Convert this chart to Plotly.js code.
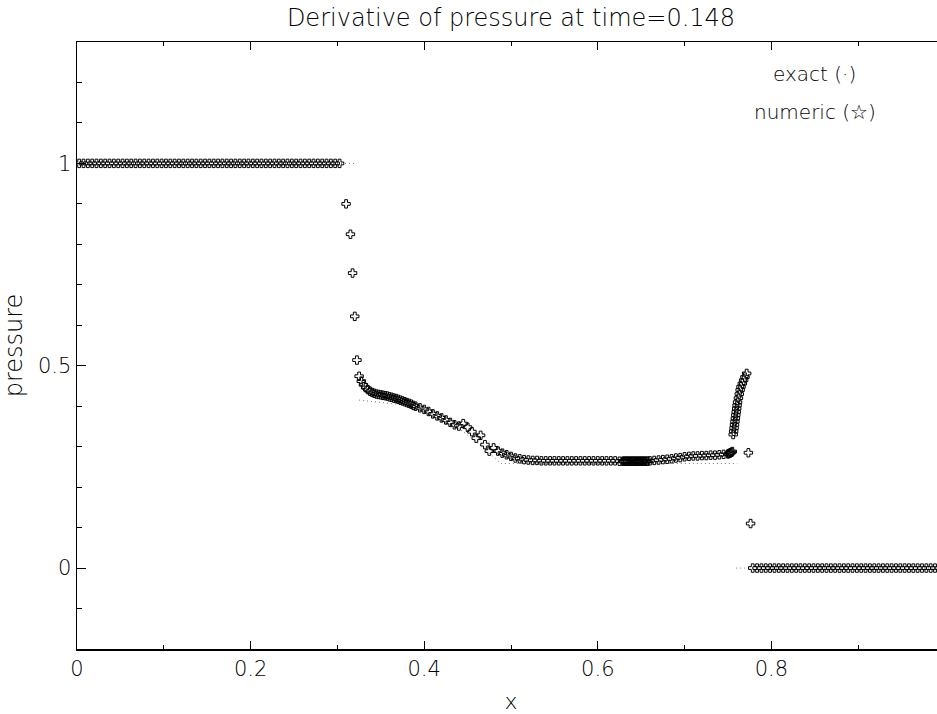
<!DOCTYPE html>
<html>
<head>
<meta charset="utf-8">
<script src="https://cdn.plot.ly/plotly-3.0.1.min.js"></script>
<style>
html,body{margin:0;padding:0;overflow:hidden;background:#fff;width:937px;height:714px;}
#chart{width:946px;height:714px;}
</style>
</head>
<body>
<div id="chart"></div>
<script>
// Numeric solution (cross markers)
const numX = [
 0.0025,0.0075,0.0125,0.0175,0.0225,0.0275,0.0325,0.0375,0.0425,0.0475,
 0.0525,0.0575,0.0625,0.0675,0.0725,0.0775,0.0825,0.0875,0.0925,0.0975,
 0.1025,0.1075,0.1125,0.1175,0.1225,0.1275,0.1325,0.1375,0.1425,0.1475,
 0.1525,0.1575,0.1625,0.1675,0.1725,0.1775,0.1825,0.1875,0.1925,0.1975,
 0.2025,0.2075,0.2125,0.2175,0.2225,0.2275,0.2325,0.2375,0.2425,0.2475,
 0.2525,0.2575,0.2625,0.2675,0.2725,0.2775,0.2825,0.2875,0.2925,0.2975,0.3025,
 0.3100,0.3150,0.3175,0.3200,0.3225,0.3250,
 0.3275,0.3300,0.3325,0.3350,0.3375,0.3400,0.3425,0.3450,0.3475,0.3500,
 0.3525,0.3550,0.3575,0.3600,0.3625,0.3650,0.3675,0.3700,0.3725,0.3750,
 0.3775,0.3800,0.3825,0.3850,0.3875,0.3900,0.3950,0.4000,
 0.405,0.410,0.415,0.420,0.425,0.430,0.435,0.440,0.445,0.450,
 0.455,0.460,0.465,0.470,0.475,0.480,0.485,0.490,0.495,0.500,
 0.505,0.510,0.515,0.520,0.525,0.530,0.535,0.540,0.545,0.550,
 0.555,0.560,0.565,0.570,0.575,0.580,0.585,0.590,0.595,0.600,
 0.605,0.610,0.615,0.620,0.625,
 0.62875,0.63,0.63125,0.6325,0.63375,0.635,0.63625,0.6375,0.63875,0.64,
 0.64125,0.6425,0.64375,0.645,0.64625,0.6475,0.64875,0.65,0.65125,0.6525,
 0.65375,0.655,0.65625,0.6575,
 0.660,0.665,0.670,0.675,0.680,0.685,0.690,0.695,0.700,0.705,
 0.710,0.715,0.720,0.725,0.730,0.735,0.740,0.745,0.750,
 0.751,0.752,0.753,0.754,0.755,
 0.7560,0.7565,0.7570,0.7575,0.7580,0.7585,0.7590,0.7595,0.7600,0.7605,
 0.7610,0.7620,0.7630,0.7640,0.7650,0.7665,0.7680,0.7695,0.7715,
 0.7735,0.7760,
 0.7785,0.7835,0.7885,0.7935,0.7985,0.8035,0.8085,0.8135,0.8185,0.8235,
 0.8285,0.8335,0.8385,0.8435,0.8485,0.8535,0.8585,0.8635,0.8685,0.8735,
 0.8785,0.8835,0.8885,0.8935,0.8985,0.9035,0.9085,0.9135,0.9185,0.9235,
 0.9285,0.9335,0.9385,0.9435,0.9485,0.9535,0.9585,0.9635,0.9685,0.9735,
 0.9785,0.9835,0.9885,0.9935,0.9985
];
const numY = [
 1,1,1,1,1,1,1,1,1,1,
 1,1,1,1,1,1,1,1,1,1,
 1,1,1,1,1,1,1,1,1,1,
 1,1,1,1,1,1,1,1,1,1,
 1,1,1,1,1,1,1,1,1,1,
 1,1,1,1,1,1,1,1,1,1,1,
 0.900,0.825,0.729,0.622,0.514,0.474,
 0.462,0.453,0.446,0.441,0.437,0.434,0.432,0.430,0.429,0.428,
 0.427,0.426,0.425,0.423,0.422,0.420,0.419,0.417,0.415,0.413,
 0.411,0.409,0.407,0.405,0.402,0.400,0.396,0.392,
 0.387,0.381,0.376,0.371,0.366,0.360,0.354,0.351,0.357,0.348,
 0.337,0.321,0.328,0.305,0.289,0.297,0.289,0.284,0.280,0.276,
 0.272,0.270,0.268,0.267,0.266,0.266,0.265,0.265,0.265,0.265,
 0.265,0.265,0.265,0.265,0.265,0.265,0.265,0.265,0.265,0.265,
 0.265,0.265,0.265,0.265,0.264,
 0.264,0.264,0.264,0.264,0.264,0.264,0.264,0.264,0.264,0.264,
 0.264,0.264,0.264,0.264,0.264,0.264,0.264,0.264,0.264,0.264,
 0.264,0.264,0.264,0.264,
 0.265,0.266,0.267,0.268,0.269,0.270,0.272,0.273,0.275,0.276,
 0.277,0.277,0.278,0.278,0.279,0.279,0.280,0.281,0.282,
 0.283,0.284,0.285,0.286,0.288,
 0.330,0.338,0.346,0.354,0.362,0.370,0.378,0.386,0.394,0.402,
 0.410,0.420,0.430,0.440,0.448,0.456,0.464,0.472,0.481,
 0.285,0.110,
 0,0,0,0,0,0,0,0,0,0,
 0,0,0,0,0,0,0,0,0,0,
 0,0,0,0,0,0,0,0,0,0,
 0,0,0,0,0,0,0,0,0,0,
 0,0,0,0,0
];
// Exact solution (dotted)
const exactX = [0, 0.3226, null, 0.3250, 0.3400, 0.3600, 0.3800, 0.4000, 0.4200, 0.4400, 0.4600, 0.4800, 0.4885, 0.7605, null, 0.7595, 1.0];
const exactY = [1, 1, null, 0.415, 0.412, 0.407, 0.402, 0.390, 0.372, 0.345, 0.312, 0.275, 0.2585, 0.2585, null, 0, 0];

const titleText = 'Derivative of pressure at time=0.148';
const xTitle = 'x';
const yTitle = 'pressure';
const legendLabels = ['exact (\u00B7)', 'numeric (\u2606)'];

const FONT = 'DejaVu Sans, sans-serif';
const traces = [
  {x: exactX, y: exactY, mode: 'lines', connectgaps: false,
   line: {color: '#777', width: 1, dash: '1px,3px'}, hoverinfo: 'skip'},
  {x: numX, y: numY, mode: 'markers',
   marker: {symbol: 'cross-open', size: 7, color: '#000', line: {color: '#000', width: 1}}}
];
const layout = {
  width: 946, height: 714,
  margin: {l: 77, r: 1, t: 42, b: 65},
  paper_bgcolor: '#fff', plot_bgcolor: '#fff',
  showlegend: false,
  font: {family: FONT, color: '#000', size: 20, weight: 300},
  title: {text: titleText, xref: 'paper', x: 0.5, xanchor: 'center', y: 0.975, yanchor: 'middle',
          font: {family: FONT, size: 24, color: '#000', weight: 300}},
  xaxis: {range: [0, 1], showgrid: false, zeroline: false,
          showline: true, linecolor: '#000', linewidth: 1.5, mirror: 'ticks',
          ticks: 'inside', ticklen: 8, tickwidth: 1, tickcolor: '#000',
          dtick: 0.2, tick0: 0,
          minor: {ticks: 'inside', dtick: 0.1, ticklen: 4, tickcolor: '#000', tickwidth: 1, showgrid: false},
          tickfont: {family: FONT, size: 21, color: '#000', weight: 300},
          title: {text: xTitle, standoff: 20, font: {family: FONT, size: 22, color: '#000', weight: 300}}},
  yaxis: {range: [-0.2, 1.3], showgrid: false, zeroline: false,
          showline: true, linecolor: '#000', linewidth: 1.5, mirror: false,
          ticks: 'inside', ticklen: 9, tickwidth: 1, tickcolor: '#000',
          dtick: 0.5, tick0: 0,
          minor: {ticks: 'inside', dtick: 0.1, ticklen: 5, tickcolor: '#000', tickwidth: 1, showgrid: false},
          tickfont: {family: FONT, size: 21, color: '#000', weight: 300},
          title: {text: yTitle, standoff: 8, font: {family: FONT, size: 24, color: '#000', weight: 300}}},
  annotations: [
    {text: legendLabels[0], xref: 'paper', yref: 'paper', x: 0.85, y: 0.948, xanchor: 'center', yanchor: 'middle',
     showarrow: false, font: {family: FONT, size: 20, color: '#000', weight: 300}},
    {text: legendLabels[1], xref: 'paper', yref: 'paper', x: 0.85, y: 0.885, xanchor: 'center', yanchor: 'middle',
     showarrow: false, font: {family: FONT, size: 20, color: '#000', weight: 300}}
  ]
};
Plotly.newPlot('chart', traces, layout, {displayModeBar: false, staticPlot: true});
</script>
</body>
</html>
